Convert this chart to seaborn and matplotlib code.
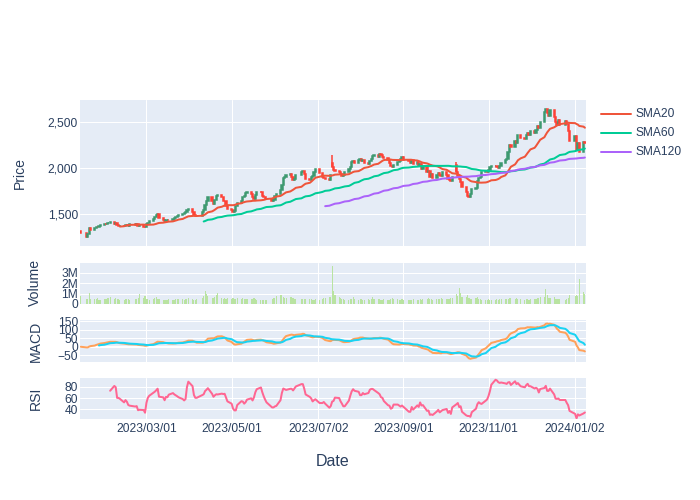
import pandas as pd, numpy as np
import matplotlib
matplotlib.use('Agg')
import matplotlib.pyplot as plt
from matplotlib.lines import Line2D
from matplotlib.ticker import FuncFormatter
import seaborn as sns

# daily closes, first trading day 2023-01-13
close = [
    1300, 1255, 1290, 1350, 1335, 1350, 1365, 1360, 1375, 1385,
    1400, 1395, 1405, 1410, 1418, 1400, 1410, 1385, 1370, 1378,
    1372, 1380, 1385, 1378, 1390, 1380, 1392, 1372, 1382, 1362,
    1358, 1390, 1405, 1430, 1450, 1470, 1495, 1500, 1455, 1440,
    1425, 1435, 1440, 1438, 1450, 1465, 1470, 1485, 1495, 1500,
    1515, 1530, 1545, 1560, 1530, 1495, 1482, 1480, 1520, 1545,
    1600, 1640, 1690, 1640, 1615, 1660, 1700, 1710, 1690, 1650,
    1640, 1590, 1560, 1545, 1525, 1540, 1590, 1620, 1650, 1690,
    1700, 1730, 1745, 1720, 1685, 1670, 1710, 1745, 1740, 1700,
    1685, 1670, 1665, 1650, 1660, 1700, 1720, 1760, 1820, 1890,
    1910, 1925, 1940, 1900, 1870, 1880, 1930, 1965, 1975, 1940,
    1880, 1870, 1900, 1920, 1960, 1990, 1950, 1910, 1895, 1880,
    1875, 1930, 2010, 1985, 1970, 1955, 1935, 1920, 1925, 1955,
    1990, 2010, 2065, 2080, 2060, 2090, 2105, 2080, 2085, 2060,
    2050, 2075, 2100, 2130, 2140, 2125, 2160, 2145, 2120, 2115,
    2090, 2060, 2030, 2015, 2040, 2065, 2080, 2100, 2120, 2090,
    2075, 2060, 2085, 2045, 2070, 2020, 2045, 1990, 2020, 1955,
    1975, 1910, 1935, 1890, 1930, 1945, 1925, 1915, 1955, 1930,
    1880, 1870, 1860, 1900, 1965, 1920, 1880, 1850, 1800, 1740,
    1700, 1690, 1720, 1770, 1790, 1860, 1890, 1905, 1960, 1975,
    1955, 1985, 2010, 2025, 2030, 2015, 2005, 2020, 2060, 2090,
    2100, 2180, 2250, 2230, 2300, 2280, 2360, 2330, 2320, 2360,
    2385, 2360, 2400, 2380, 2420, 2460, 2440, 2500, 2610, 2640,
    2600, 2570, 2630, 2560, 2500, 2470, 2520, 2470, 2510, 2480,
    2400, 2300, 2350, 2200, 2270, 2180, 2290, 2270,
]

# daily volume in millions
volume_m = [
    0.78, 0.45, 0.50, 1.10, 0.45, 0.50, 0.48, 0.55, 0.42, 0.40,
    0.45, 0.50, 0.60, 0.55, 0.65, 0.50, 0.58, 0.45, 0.50, 0.42,
    0.40, 0.48, 0.45, 0.52, 0.40, 0.45, 0.50, 0.55, 0.94, 0.60,
    0.75, 0.50, 0.45, 0.42, 0.48, 0.55, 0.70, 0.50, 0.45, 0.40,
    0.42, 0.40, 0.38, 0.45, 0.40, 0.42, 0.45, 0.50, 0.48, 0.45,
    0.42, 0.48, 0.50, 0.55, 0.45, 0.42, 0.40, 0.45, 0.60, 0.75,
    1.22, 0.94, 0.80, 0.60, 0.55, 0.70, 0.85, 1.10, 0.60, 0.50,
    0.55, 0.48, 0.60, 0.52, 0.55, 0.50, 0.45, 0.58, 0.50, 0.55,
    0.48, 0.45, 0.52, 0.50, 0.45, 0.55, 0.48, 0.42, 0.40, 0.38,
    0.35, 0.40, 0.42, 0.45, 0.55, 0.60, 0.75, 0.90, 0.85, 0.70,
    0.60, 0.55, 0.65, 0.70, 0.55, 0.50, 0.48, 0.52, 0.50, 0.45,
    0.48, 0.45, 0.50, 0.42, 0.40, 0.45, 0.42, 0.50, 0.55, 0.60,
    0.65, 0.70, 3.70, 1.22, 0.90, 0.70, 0.55, 0.50, 0.45, 0.42,
    0.40, 0.45, 0.50, 0.65, 0.45, 0.42, 0.48, 0.45, 0.40, 0.42,
    0.45, 0.42, 0.50, 0.65, 0.48, 0.45, 0.50, 0.42, 0.40, 0.45,
    0.42, 0.40, 0.45, 0.60, 0.45, 0.48, 0.42, 0.40, 0.45, 0.42,
    0.40, 0.38, 0.42, 0.45, 0.40, 0.42, 0.45, 0.40, 0.48, 0.50,
    0.60, 0.50, 0.45, 0.42, 0.48, 0.50, 0.45, 0.55, 0.50, 0.48,
    0.52, 0.50, 0.55, 0.60, 1.00, 0.80, 1.50, 1.10, 0.70, 0.65,
    0.85, 0.60, 0.50, 0.45, 0.55, 0.65, 0.50, 0.45, 0.42, 0.40,
    0.42, 0.45, 0.40, 0.38, 0.42, 0.45, 0.40, 0.48, 0.45, 0.50,
    0.48, 0.52, 0.55, 0.60, 0.50, 0.55, 0.48, 0.45, 0.42, 0.50,
    0.45, 0.42, 0.48, 0.50, 0.45, 0.55, 0.60, 0.65, 0.70, 1.45,
    0.85, 0.60, 0.55, 0.70, 0.50, 0.45, 0.48, 0.50, 0.42, 0.45,
    0.55, 0.85, 0.80, 0.85, 0.75, 2.40, 1.20, 0.96,
]

first_open = 1320
# candles that gapped (open) or had a visible spike (high)
open_fix = {122: 2060, 184: 2040}
high_fix = {122: 2140, 184: 2065}

holidays = ['2023-01-16', '2023-02-20', '2023-04-07', '2023-05-29', '2023-06-19',
            '2023-07-04', '2023-09-04', '2023-11-23', '2023-12-25', '2024-01-01']
tick_dates = ['2023-03-01', '2023-05-01', '2023-07-02', '2023-09-01', '2023-11-01', '2024-01-02']
sma_periods = [20, 60, 120]
sma_colors = ['#EF553B', '#00CC96', '#AB63FA']

# build frame + indicators
dates = pd.bdate_range('2023-01-13', periods=len(close), freq='C', holidays=holidays)
df = pd.DataFrame({'date': dates, 'close': close, 'volume': np.array(volume_m) * 1e6})
df['open'] = df['close'].shift(1).fillna(first_open)
for k, v in open_fix.items():
    df.loc[k, 'open'] = v

for n in sma_periods:
    df[f'SMA{n}'] = df['close'].rolling(n).mean()

ema12 = df['close'].ewm(span=12, adjust=False).mean()
ema26 = df['close'].ewm(span=26, adjust=False).mean()
df['macd'] = ema12 - ema26
df['signal'] = df['macd'].ewm(span=9, adjust=False, min_periods=9).mean()

delta = df['close'].diff()
gain = delta.clip(lower=0).rolling(14).mean()
loss = (-delta.clip(upper=0)).rolling(14).mean()
df['rsi'] = 100 - 100 / (1 + gain / loss)

# style
txt = '#2a3f5f'
sns.set_theme(style='darkgrid', rc={'axes.facecolor': '#E5ECF6', 'grid.color': 'white',
                                    'grid.linewidth': 0.75, 'axes.edgecolor': '#E5ECF6'})
plt.rcParams['font.family'] = ['Liberation Sans', 'DejaVu Sans']

fig = plt.figure(figsize=(7, 5), dpi=100)
W, H = 700, 500
def panel(top, bottom):
    return fig.add_axes([80 / W, 1 - bottom / H, 505.7 / W, (bottom - top) / H])

ax_p = panel(100, 245.7)
ax_v = panel(262.7, 304)
ax_m = panel(320, 361.7)
ax_r = panel(377.7, 419.3)

# candles
inc = df['close'] > df['open']
colors = np.where(inc, '#3D9970', '#FF4136')
ax_p.bar(df['date'], df['close'] - df['open'], bottom=df['open'], width=0.9,
         color=colors, edgecolor=colors, linewidth=1.1, zorder=2)
for k, hi in high_fix.items():
    lo = min(df.loc[k, 'open'], df.loc[k, 'close'])
    ax_p.vlines(df.loc[k, 'date'], lo, hi, color=colors[k], linewidth=1.1, zorder=2)

for n, c in zip(sma_periods, sma_colors):
    sns.lineplot(data=df, x='date', y=f'SMA{n}', ax=ax_p, color=c, linewidth=1.44, zorder=3)

# volume
ax_v.bar(df['date'], df['volume'], width=0.8, color='#b9e3a1', linewidth=0, zorder=2)

# macd
ax_m.axhline(0, color='white', linewidth=1.5, zorder=1)
sns.lineplot(data=df, x='date', y='macd', ax=ax_m, color='#FFA15A', linewidth=1.44, zorder=3)
sns.lineplot(data=df, x='date', y='signal', ax=ax_m, color='#19D3F3', linewidth=1.44, zorder=4)

# rsi
sns.lineplot(data=df, x='date', y='rsi', ax=ax_r, color='#FF6692', linewidth=1.44, zorder=3)

# axes
xlo = df['date'].iloc[0] - pd.Timedelta(hours=14)
xhi = df['date'].iloc[-1] + pd.Timedelta(hours=14)
ticks = pd.to_datetime(tick_dates)
for ax in [ax_p, ax_v, ax_m, ax_r]:
    ax.set_xlim(xlo, xhi)
    ax.set_xticks(ticks)
    ax.set_xlabel('')
    ax.set_ylabel('')
    ax.tick_params(length=0, labelsize=8.64, labelcolor=txt, pad=1.5)
    for s in ax.spines.values():
        s.set_visible(False)
for ax in [ax_p, ax_v, ax_m]:
    ax.set_xticklabels([])
ax_r.set_xticklabels([d.strftime('%Y/%m/%d') for d in ticks])
ax_r.tick_params(axis='x', pad=3)

ax_p.set_ylim(1159, 2742)
ax_p.set_yticks([1500, 2000, 2500])
ax_p.yaxis.set_major_formatter(FuncFormatter(lambda v, p: f'{v:,.0f}'))

ax_v.set_ylim(0, 3.97e6)
ax_v.set_yticks([0, 1e6, 2e6, 3e6])
ax_v.yaxis.set_major_formatter(FuncFormatter(lambda v, p: '0' if v == 0 else f'{v / 1e6:.0f}M'))

ax_m.set_ylim(-87, 156)
ax_m.set_yticks([-50, 0, 50, 100, 150])

ax_r.set_ylim(22.3, 96)
ax_r.set_yticks([40, 60, 80])

# titles
for label, x, y in [('Price', 20, 173), ('Volume', 35, 283), ('MACD', 36, 341), ('RSI', 36, 398)]:
    fig.text(x / W, 1 - y / H, label, rotation=90, ha='center', va='center', fontsize=10.08, color=txt)
fig.text(333 / W, 1 - 461 / H, 'Date', ha='center', va='center', fontsize=11.5, color=txt)

# legend
for i, (n, c) in enumerate(zip(sma_periods, sma_colors)):
    y = 1 - (114 + 19 * i) / H
    fig.add_artist(Line2D([601 / W, 631 / W], [y, y], transform=fig.transFigure, color=c, linewidth=1.44))
    fig.text(636 / W, y, f'SMA{n}', ha='left', va='center', fontsize=8.64, color=txt)

fig.savefig('out.png', dpi=100)
